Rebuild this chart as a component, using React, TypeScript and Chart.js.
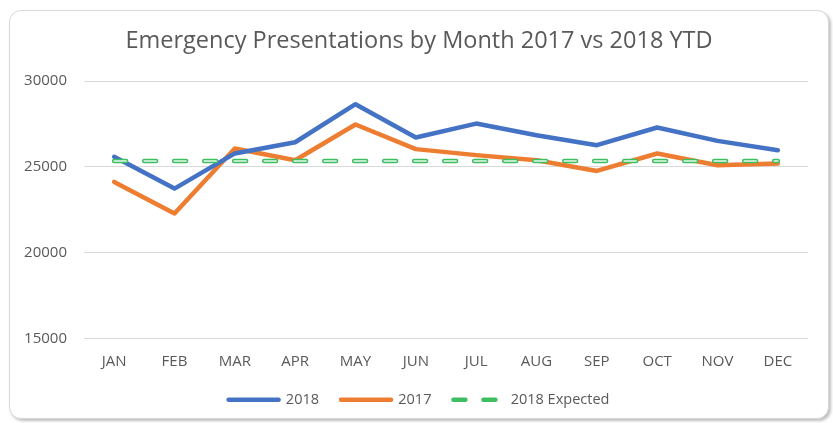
import React, { useEffect, useRef } from 'react';
import { Chart, registerables } from 'chart.js';

Chart.register(...registerables);

const months = ['JAN', 'FEB', 'MAR', 'APR', 'MAY', 'JUN', 'JUL', 'AUG', 'SEP', 'OCT', 'NOV', 'DEC'];
const values2018 = [25590, 23740, 25790, 26440, 28660, 26720, 27530, 26850, 26270, 27300, 26520, 25980];
const values2017 = [24130, 22290, 26080, 25390, 27475, 26040, 25690, 25390, 24770, 25785, 25100, 25200];
const expected2018 = [25350, 25350, 25350, 25350, 25350, 25350, 25350, 25350, 25350, 25350, 25350, 25350];
const yTicks = [15000, 20000, 25000, 30000];

const FONT = "'Open Sans', sans-serif";
const TEXT = '#595959';

export default function App() {
  const ref = useRef<HTMLCanvasElement>(null);

  useEffect(() => {
    if (!ref.current) return;
    const chart = new Chart(ref.current, {
      type: 'line',
      data: {
        labels: months,
        datasets: [
          {
            label: '2018',
            data: values2018,
            borderColor: '#4472C4',
            backgroundColor: '#4472C4',
            borderWidth: 4.5,
            pointRadius: 0,
            tension: 0,
            borderCapStyle: 'round',
            borderJoinStyle: 'round',
            order: 2,
          },
          {
            label: '2017',
            data: values2017,
            borderColor: '#ED7D31',
            backgroundColor: '#ED7D31',
            borderWidth: 4.5,
            pointRadius: 0,
            tension: 0,
            borderCapStyle: 'round',
            borderJoinStyle: 'round',
            order: 3,
          },
          {
            label: '2018 Expected',
            data: expected2018,
            borderColor: '#3DBE5F',
            backgroundColor: '#3DBE5F',
            borderWidth: 4.5,
            borderDash: [12, 18],
            pointRadius: 0,
            tension: 0,
            borderCapStyle: 'round',
            order: 1,
          },
          {
            label: 'inner',
            data: expected2018,
            borderColor: '#E9F8EE',
            backgroundColor: '#E9F8EE',
            borderWidth: 1.5,
            borderDash: [12, 18],
            pointRadius: 0,
            tension: 0,
            borderCapStyle: 'round',
            order: 0,
          },
        ],
      },
      options: {
        responsive: false,
        animation: false,
        layout: { padding: { left: 0, right: 0, top: 0, bottom: 1 } },
        plugins: {
          tooltip: { enabled: false },
          title: {
            display: true,
            text: 'Emergency Presentations by Month 2017 vs 2018 YTD',
            color: TEXT,
            font: { family: FONT, size: 23.5, weight: 'normal' },
            padding: { top: 16, bottom: 26 },
          },
          legend: {
            position: 'bottom',
            labels: {
              filter: (item: any) => item.text !== 'inner',
              sort: (a: any, b: any) => a.datasetIndex - b.datasetIndex,
              generateLabels: (c: any) => {
                const items = Chart.defaults.plugins.legend.labels.generateLabels(c);
                items.forEach((it: any) => {
                  const ds: any = c.data.datasets[it.datasetIndex];
                  it.lineDash = ds.borderDash || [];
                  it.lineCap = 'round';
                });
                return items;
              },
              usePointStyle: true,
              pointStyle: 'line',
              pointStyleWidth: 50,
              boxHeight: 14,
              color: TEXT,
              font: { family: FONT, size: 14.5 },
              padding: 22,
            },
          },
        },
        scales: {
          x: {
            offset: true,
            grid: { display: false, drawTicks: false },
            border: { display: false },
            ticks: { color: TEXT, font: { family: FONT, size: 15 }, padding: 14 },
            afterFit: (s: any) => { s.height = 32; },
          },
          y: {
            min: 15000,
            max: 30000,
            afterBuildTicks: (s: any) => { s.ticks = yTicks.map((v) => ({ value: v })); },
            grid: { color: '#D9D9D9', lineWidth: 1, drawTicks: false },
            border: { display: false },
            ticks: {
              color: TEXT,
              font: { family: FONT, size: 15 },
              padding: 17,
              callback: (v: any) => String(v),
            },
            afterFit: (s: any) => { s.width = 74; },
          },
          yRight: {
            position: 'right',
            display: true,
            grid: { display: false, drawTicks: false },
            border: { display: false },
            ticks: { display: false },
            afterFit: (s: any) => { s.width = 20; },
          },
        },
      },
    });
    return () => chart.destroy();
  }, []);

  return (
    <div
      style={{
        position: 'absolute',
        left: 9,
        top: 10,
        width: 818,
        height: 407,
        border: '1px solid #D9D9D9',
        borderRadius: 12,
        boxShadow: '2px 2px 3px rgba(0,0,0,0.25)',
        background: '#fff',
      }}
    >
      <canvas ref={ref} width={818} height={407} style={{ display: 'block' }} />
    </div>
  );
}
